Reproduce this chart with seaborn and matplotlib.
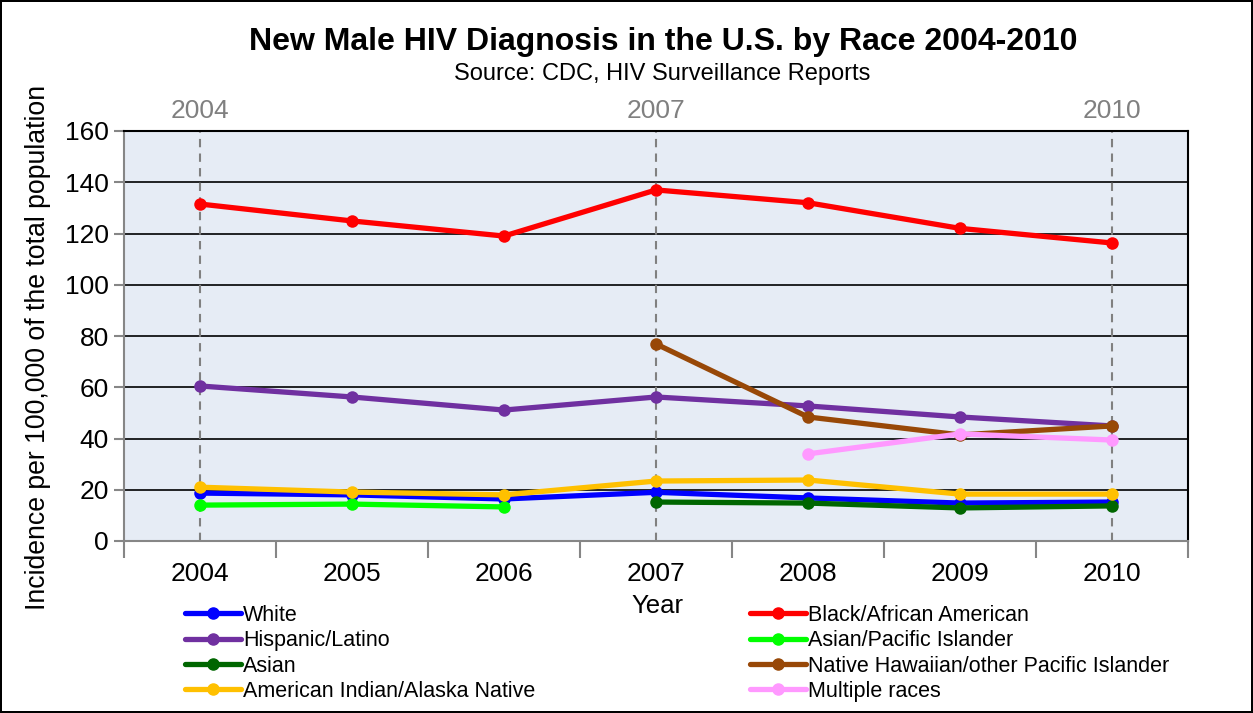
import pandas as pd
import numpy as np
import seaborn as sns
import matplotlib.pyplot as plt
from matplotlib.lines import Line2D
from matplotlib.ticker import MultipleLocator

years = [2004, 2005, 2006, 2007, 2008, 2009, 2010]

white = [18.7, 18.0, 16.4, 19.0, 16.8, 14.8, 15.2]
black = [131.5, 124.9, 119.0, 137.0, 132.0, 122.0, 116.3]
hispanic = [60.5, 56.2, 51.1, 56.2, 52.7, 48.4, 44.9]
asian_pi = [14.0, 14.4, 13.3, None, None, None, None]
asian = [None, None, None, 15.2, 14.8, 12.9, 13.7]
native_hawaiian = [None, None, None, 76.9, 48.4, 41.4, 44.9]
american_indian = [21.0, 19.1, 18.0, 23.4, 23.8, 18.3, 18.3]
multiple = [None, None, None, None, 34.0, 41.8, 39.4]

series_names = ['White', 'Black/African American', 'Hispanic/Latino', 'Asian/Pacific Islander',
                'Asian', 'Native Hawaiian/other Pacific Islander',
                'American Indian/Alaska Native', 'Multiple races']
series_values = [white, black, hispanic, asian_pi, asian, native_hawaiian, american_indian, multiple]
colors = ['#0000FF', '#FF0000', '#7030A0', '#00FF00', '#006600', '#984807', '#FFC000', '#FF99FF']

rows = []
for name, vals in zip(series_names, series_values):
    for yr, v in zip(years, vals):
        if v is not None:
            rows.append({'Year': yr, 'Race': name, 'Incidence': v})
df = pd.DataFrame(rows)

sns.set_theme(style='white')
plt.rcParams['font.family'] = ['Liberation Sans', 'DejaVu Sans']
plt.rcParams['text.color'] = 'black'
plt.rcParams['axes.labelcolor'] = 'black'
plt.rcParams['xtick.color'] = 'black'
plt.rcParams['ytick.color'] = 'black'

fig = plt.figure(figsize=(12.53, 7.13), dpi=100)
fig.patch.set_edgecolor('black')
fig.patch.set_linewidth(1.5)
ax = fig.add_axes([124 / 1253, 1 - 541 / 713, (1188 - 124) / 1253, (541 - 131) / 713])
ax.set_facecolor('#E6ECF5')

# gridlines and year markers
for yv in range(20, 160, 20):
    ax.axhline(yv, color='black', lw=1.2, zorder=1)
for xv in [2004, 2007, 2010]:
    ax.axvline(xv, color='#808080', lw=1.5, ls=(0, (4, 3)), zorder=1.5)

sns.lineplot(data=df, x='Year', y='Incidence', hue='Race', hue_order=series_names,
             palette=dict(zip(series_names, colors)), marker='o', markersize=9,
             markeredgewidth=0, linewidth=3.8, legend=False, ax=ax, zorder=3)

ax.set_xlim(2003.5, 2010.5)
ax.set_ylim(0, 160)
ax.yaxis.set_major_locator(MultipleLocator(20))
ax.set_xticks(years)
ax.set_xticks(np.arange(2003.5, 2011, 1), minor=True)
ax.tick_params(axis='x', which='major', length=0, labelsize=19, pad=15, labelcolor='black')
ax.tick_params(axis='x', which='minor', length=12, width=1.5, color='#868686', direction='out', bottom=True)
ax.tick_params(axis='y', length=7, width=1.5, color='#868686', direction='out', left=True,
               labelsize=19, pad=4, labelcolor='black')
ax.set_xlabel('')
ax.set_ylabel('')

for side in ['left', 'bottom']:
    ax.spines[side].set_color('#868686')
    ax.spines[side].set_linewidth(1.5)
for side in ['top', 'right']:
    ax.spines[side].set_color('black')
    ax.spines[side].set_linewidth(1.5)

top = ax.secondary_xaxis('top')
top.set_xticks([2004, 2007, 2010])
top.tick_params(length=0, labelsize=19, labelcolor='#808080', pad=6)
top.spines['top'].set_visible(False)

fig.text(663 / 1253, 1 - 42 / 713, 'New Male HIV Diagnosis in the U.S. by Race 2004-2010',
         ha='center', va='center', fontsize=23, fontweight='bold')
fig.text(662 / 1253, 1 - 74 / 713, 'Source: CDC, HIV Surveillance Reports',
         ha='center', va='center', fontsize=17)
fig.text(38 / 1253, 1 - 347 / 713, 'Incidence per 100,000 of the total population',
         ha='center', va='center', rotation=90, fontsize=19.2)
fig.text(657 / 1253, 1 - 606 / 713, 'Year', ha='center', va='center', fontsize=18.5)

handles = [Line2D([], [], color=c, lw=3.8, marker='o', markersize=8) for c in colors]
left_idx = [0, 2, 4, 6]
right_idx = [1, 3, 5, 7]
for idx, x0 in [(left_idx, 185), (right_idx, 750)]:
    fig.legend([handles[i] for i in idx], [series_names[i] for i in idx],
               loc='upper left', bbox_to_anchor=(x0 / 1253, 1 - 605 / 713),
               frameon=False, fontsize=15.5, handlelength=2.6, handletextpad=0.1,
               labelspacing=0.2, borderaxespad=0, borderpad=0)

fig.savefig('out.png', dpi=100)
